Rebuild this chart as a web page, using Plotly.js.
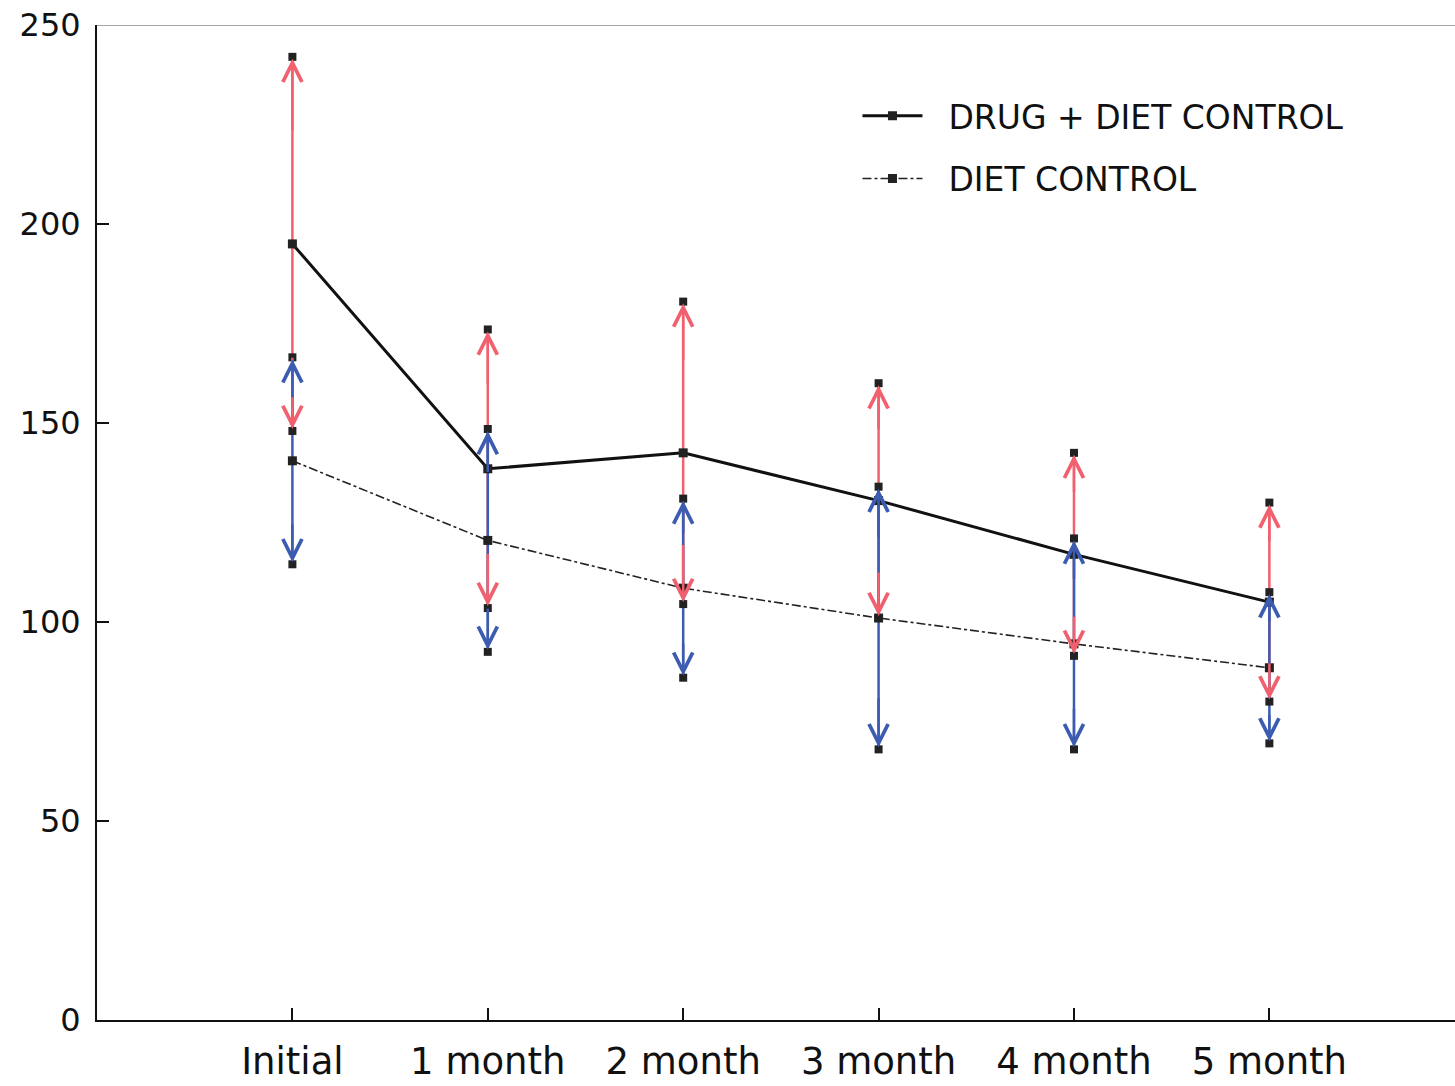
<!DOCTYPE html>
<html>
<head>
<meta charset="utf-8">
<script src="https://cdn.plot.ly/plotly-3.0.1.min.js"></script>
<style>html,body{margin:0;padding:0;background:#fff;}#chart{width:1455px;height:1086px;}</style>
</head>
<body>
<div id="chart"></div>
<script>
// ---- data ----
const categories = ['Initial', '1 month', '2 month', '3 month', '4 month', '5 month'];
const drugDiet = [195, 138.5, 142.5, 130.5, 117, 105];
const drugDietErr = [47, 35, 38, 29.5, 25.5, 25];
const dietControl = [140.5, 120.5, 108.5, 101, 94.5, 88.5];
const dietControlErr = [26, 28, 22.5, 33, 26.5, 19];
const yTicks = [0, 50, 100, 150, 200, 250];

const xs = categories.map((c, i) => i);
const RED = '#f0606e';
const BLUE = '#3b5cb0';

function endPts(vals, errs) {
  const x = [], y = [];
  vals.forEach((v, i) => { x.push(i, i); y.push(v + errs[i], v - errs[i]); });
  return {x, y};
}
const ddEnds = endPts(drugDiet, drugDietErr);
const dcEnds = endPts(dietControl, dietControlErr);

const traces = [
  {x: xs, y: drugDiet, mode: 'none', type: 'scatter', showlegend: false, hoverinfo: 'skip',
   error_y: {type: 'data', array: drugDietErr, visible: true, color: RED, thickness: 2.5, width: 0}},
  {x: xs, y: dietControl, mode: 'none', type: 'scatter', showlegend: false, hoverinfo: 'skip',
   error_y: {type: 'data', array: dietControlErr, visible: true, color: BLUE, thickness: 2.5, width: 0}},
  {x: ddEnds.x, y: ddEnds.y, mode: 'markers', type: 'scatter', showlegend: false, hoverinfo: 'skip',
   marker: {symbol: 'square', size: 8, color: '#222'}},
  {x: dcEnds.x, y: dcEnds.y, mode: 'markers', type: 'scatter', showlegend: false, hoverinfo: 'skip',
   marker: {symbol: 'square', size: 8, color: '#222'}},
  {x: xs, y: drugDiet, name: '\u00a0\u00a0DRUG + DIET CONTROL', mode: 'lines+markers', type: 'scatter',
   legendgroup: 'a',
   line: {color: '#111', width: 3}, marker: {symbol: 'square', size: 9, color: '#222'}},
  {x: xs, y: dietControl, name: '\u00a0\u00a0DIET CONTROL', mode: 'lines+markers', type: 'scatter',
   legendgroup: 'b',
   line: {color: '#222', width: 1.6, dash: 'dashdot'}, marker: {symbol: 'square', size: 9, color: '#222'}}
];

const annotations = [];
function addArrows(vals, errs, color) {
  vals.forEach((v, i) => {
    [1, -1].forEach(s => {
      annotations.push({
        x: i, y: v + s * errs[i], xref: 'x', yref: 'y',
        ax: i, ay: v + s * errs[i] * 0.6, axref: 'x', ayref: 'y',
        text: '', showarrow: true, arrowhead: 5, arrowsize: 1.5, arrowwidth: 2.5,
        arrowcolor: color, standoff: 2
      });
    });
  });
}
addArrows(drugDiet, drugDietErr, RED);
addArrows(dietControl, dietControlErr, BLUE);

const layout = {
  width: 1455, height: 1086,
  margin: {l: 97, r: 0, t: 25, b: 66},
  paper_bgcolor: '#fff', plot_bgcolor: '#fff',
  font: {family: 'DejaVu Sans, sans-serif', color: '#111'},
  showlegend: true,
  legend: {x: 0.56, y: 0.937, xanchor: 'left', yanchor: 'top', bgcolor: 'rgba(0,0,0,0)',
           font: {size: 33, family: 'DejaVu Sans, sans-serif', color: '#111'},
           itemwidth: 60, traceorder: 'grouped', tracegroupgap: 17},
  xaxis: {
    range: [-1, 5.95], tickvals: xs, ticktext: categories,
    showgrid: false, zeroline: false, showline: true, linecolor: '#111', linewidth: 2,
    ticks: 'inside', ticklen: 12, tickwidth: 2, tickcolor: '#111',
    tickfont: {size: 37, family: 'DejaVu Sans, sans-serif', color: '#111'},
    ticklabelstandoff: 8
  },
  yaxis: {
    range: [0, 250], tickvals: yTicks,
    showgrid: false, zeroline: false, showline: true, linecolor: '#111', linewidth: 2,
    ticks: 'inside', ticklen: 12, tickwidth: 2, tickcolor: '#111',
    tickfont: {size: 32, family: 'DejaVu Sans, sans-serif', color: '#111'},
    ticklabelstandoff: 8
  },
  shapes: [{type: 'line', xref: 'paper', yref: 'y', x0: 0, x1: 1, y0: 250, y1: 250,
            line: {color: '#888', width: 1.5}}],
  annotations: annotations
};

Plotly.newPlot('chart', traces, layout, {displayModeBar: false, staticPlot: true});
</script>
</body>
</html>
